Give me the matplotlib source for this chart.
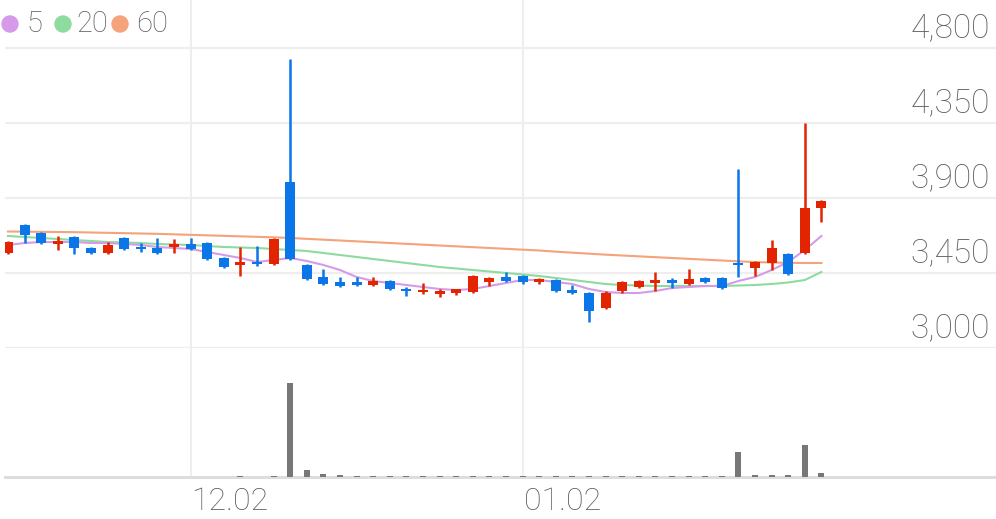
import matplotlib
matplotlib.use("Agg")
import matplotlib.pyplot as plt
import numpy as np
from matplotlib.patches import Ellipse
from matplotlib.transforms import offset_copy

# daily candles, oldest first
opens = [3570, 3738, 3690, 3624, 3666, 3600, 3570, 3660, 3606, 3600,
         3606, 3624, 3630, 3540, 3498, 3516, 3504, 3996, 3498, 3426,
         3396, 3396, 3378, 3402, 3354, 3336, 3330, 3330, 3336, 3396,
         3426, 3432, 3396, 3408, 3348, 3330, 3240, 3342, 3366, 3390,
         3408, 3384, 3420, 3420, 3510, 3480, 3510, 3564, 3570, 3840]
highs = [3640, 3744, 3694, 3672, 3670, 3606, 3636, 3664, 3630, 3660,
         3654, 3660, 3634, 3544, 3606, 3612, 3660, 4734, 3502, 3474,
         3426, 3426, 3426, 3406, 3366, 3390, 3354, 3356, 3436, 3424,
         3456, 3436, 3420, 3412, 3378, 3334, 3342, 3400, 3408, 3456,
         3420, 3474, 3426, 3426, 4074, 3520, 3648, 3568, 4350, 3886]
lows = [3566, 3630, 3626, 3588, 3564, 3566, 3566, 3590, 3576, 3566,
        3570, 3590, 3528, 3482, 3432, 3492, 3498, 3528, 3408, 3380,
        3368, 3372, 3372, 3348, 3312, 3324, 3306, 3318, 3332, 3372,
        3398, 3384, 3384, 3338, 3326, 3156, 3236, 3330, 3360, 3342,
        3360, 3380, 3392, 3356, 3426, 3432, 3468, 3440, 3566, 3756]
closes = [3636, 3678, 3630, 3642, 3600, 3570, 3618, 3594, 3594, 3570,
          3624, 3594, 3534, 3486, 3516, 3504, 3654, 3534, 3414, 3384,
          3372, 3378, 3402, 3354, 3342, 3348, 3336, 3354, 3432, 3420,
          3402, 3396, 3414, 3342, 3330, 3222, 3330, 3396, 3402, 3408,
          3390, 3414, 3396, 3360, 3498, 3516, 3600, 3444, 3840, 3882]
volumes = [2, 2, 2, 2, 2, 2, 2, 2, 2, 2,
           2, 2, 2, 2, 8, 3, 8, 940, 70, 30,
           15, 14, 14, 13, 13, 13, 12, 12, 12, 12,
           12, 12, 12, 12, 12, 12, 12, 12, 12, 12,
           12, 12, 12, 12, 250, 15, 15, 15, 320, 40]

# moving averages
ma5 = [3618, 3630, 3636, 3636, 3636, 3630, 3630, 3624, 3618, 3606,
       3600, 3594, 3576, 3558, 3540, 3516, 3528, 3540, 3522, 3498,
       3468, 3426, 3402, 3390, 3378, 3366, 3354, 3348, 3354, 3372,
       3390, 3408, 3408, 3396, 3384, 3354, 3336, 3330, 3330, 3342,
       3360, 3366, 3372, 3372, 3402, 3426, 3468, 3516, 3588, 3672]
ma20 = [3672, 3666, 3660, 3654, 3648, 3642, 3636, 3633, 3630, 3624,
        3621, 3618, 3612, 3606, 3603, 3600, 3594, 3588, 3582, 3570,
        3558, 3546, 3534, 3522, 3510, 3498, 3486, 3477, 3468, 3459,
        3450, 3441, 3432, 3420, 3408, 3396, 3384, 3378, 3375, 3372,
        3372, 3372, 3372, 3372, 3375, 3378, 3384, 3393, 3408, 3456]
ma60 = [3699, 3698, 3697, 3696, 3695, 3693, 3691, 3689, 3687, 3685,
        3682, 3679, 3676, 3673, 3670, 3667, 3664, 3660, 3655, 3650,
        3645, 3640, 3635, 3630, 3625, 3620, 3615, 3610, 3605, 3600,
        3595, 3590, 3585, 3578, 3572, 3566, 3560, 3555, 3550, 3545,
        3540, 3535, 3530, 3525, 3520, 3516, 3513, 3511, 3510, 3510]

price_ticks = [3000, 3450, 3900, 4350, 4800]
date_ticks = {12: "12.02", 32: "01.02"}

UP, DOWN = "#e32400", "#0a76e8"
GRID = "#eeeeee"
TXT = "#5e5e5e"
MA_COLORS = {"5": "#d59be8", "20": "#8edb9f", "60": "#f4a37b"}
FONT = ["Roboto", "DejaVu Sans"]

W, H = 996, 519
fig = plt.figure(figsize=(W / 100, H / 100), dpi=100)
ax = fig.add_axes([5 / W, (H - 348) / H, 991 / W, 348 / H])
vax = fig.add_axes([5 / W, (H - 477) / H, 991 / W, 129 / H])

x = np.arange(1, len(opens) + 1)
o, hi, lo, c = map(np.array, (opens, highs, lows, closes))
colors = np.where(c >= o, UP, DOWN)

ax.set_xlim(1 - 3 / 16.6, 1 + 988 / 16.6)
ax.set_ylim(3000, 3000 + 348 * 6)

ax.plot(x, ma60, color=MA_COLORS["60"], lw=1.5, zorder=2)
ax.plot(x, ma20, color=MA_COLORS["20"], lw=1.5, zorder=2)
ax.plot(x, ma5, color=MA_COLORS["5"], lw=1.5, zorder=2)

ax.vlines(x, lo, hi, colors=colors, lw=1.8, zorder=3)
body_h = np.maximum(np.abs(c - o), 14)
body_b = np.minimum(o, c) - np.where(np.abs(c - o) < 14, (14 - np.abs(c - o)) / 2, 0)
ax.bar(x, body_h, bottom=body_b, width=0.6, color=colors, zorder=4)

ax.set_yticks(price_ticks)
ax.grid(axis="y", color=GRID, lw=1.6)
ax.set_axisbelow(True)
ax.tick_params(left=False, right=False, bottom=False, labelleft=False, labelbottom=False)
for s in ax.spines.values():
    s.set_visible(False)

lab_tr = offset_copy(ax.get_yaxis_transform(), fig=fig, x=0, y=20, units="dots")
for p in price_ticks:
    ax.text(0.994, p, f"{p:,}", transform=lab_tr, ha="right", va="center",
            fontsize=24, color=TXT, family=FONT, fontweight="light")

# volume panel
vax.bar(x, volumes, width=0.36, color="#777777", zorder=3)
vax.set_xlim(ax.get_xlim())
vax.set_ylim(0, max(volumes) * 129 / 94.5)
vax.set_yticks([])
vax.tick_params(bottom=False, labelbottom=False)
for s in ("top", "left", "right"):
    vax.spines[s].set_visible(False)
vax.spines["bottom"].set_color("#dddddd")
vax.spines["bottom"].set_linewidth(2.2)

for i, lab in date_ticks.items():
    ax.axvline(i, color=GRID, lw=1.4, zorder=0)
    vax.axvline(i, color=GRID, lw=1.4, zorder=0)
    tr = offset_copy(vax.get_xaxis_transform(), fig=fig, x=1, y=-25, units="dots")
    vax.text(i, 0, lab, transform=tr, ha="left", va="center", fontsize=23,
             color=TXT, family=FONT, fontweight="light")

# legend
for (name, col), cx, tx in zip(MA_COLORS.items(), (10, 63, 120), (26, 76, 136)):
    fig.patches.append(Ellipse((cx / W, 1 - 24 / H), 16 / W, 16 / H,
                               transform=fig.transFigure, color=col, figure=fig))
    fig.text(tx / W, 1 - 24 / H, name, ha="left", va="center", fontsize=21,
             color=TXT, family=FONT, fontweight="light")

fig.savefig("out.png", dpi=100)
